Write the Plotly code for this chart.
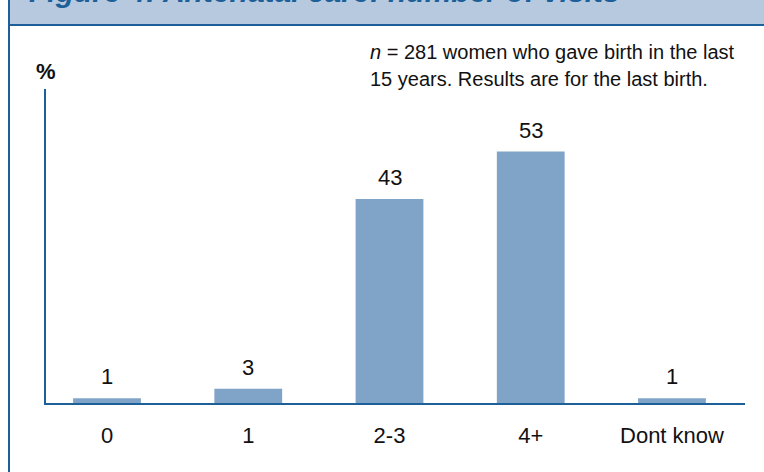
import plotly.graph_objects as go

categories = ["0", "1", "2-3", "4+", "Dont know"]
values = [1, 3, 43, 53, 1]
value_labels = ["1", "3", "43", "53", "1"]

title_text = "Figure 4: Antenatal care: number of visits"
note_line1 = "<i>n</i> = 281 women who gave birth in the last"
note_line2 = "15 years. Results are for the last birth."

W, H = 764, 472
L, R, T, B = 46, 745, 89, 403  # plot area in pixels
PW, PH = R - L, B - T

def px(x):
    return (x - L) / PW

def py(y):
    return (B - y) / PH

FONT = "Liberation Sans, Arial, sans-serif"
BLUE = "#1c5f99"
BAR = "#80a4c8"

fig = go.Figure()
fig.add_trace(go.Bar(
    x=categories, y=values, width=0.48,
    marker=dict(color=BAR, line=dict(width=0)),
    hoverinfo="skip",
))

annotations = []
for c, v, t in zip(categories, values, value_labels):
    annotations.append(dict(x=c, y=v, xref="x", yref="y", text=t, showarrow=False,
                            yanchor="bottom", yshift=7,
                            font=dict(family=FONT, size=22, color="#111111")))

annotations += [
    dict(x=px(27), y=py(10), xref="paper", yref="paper", text="<b><i>" + title_text + "</i></b>",
         showarrow=False, xanchor="left", yanchor="bottom",
         font=dict(family=FONT, size=30, color=BLUE)),
    dict(x=px(34), y=py(71), xref="paper", yref="paper", text="<b>%</b>",
         showarrow=False, xanchor="left", yanchor="middle",
         font=dict(family=FONT, size=22, color="#111111")),
    dict(x=px(368), y=py(52), xref="paper", yref="paper", text=note_line1,
         showarrow=False, xanchor="left", yanchor="middle",
         font=dict(family=FONT, size=20, color="#111111")),
    dict(x=px(368), y=py(79), xref="paper", yref="paper", text=note_line2,
         showarrow=False, xanchor="left", yanchor="middle",
         font=dict(family=FONT, size=20, color="#111111")),
]

shapes = [
    dict(type="rect", xref="paper", yref="paper", x0=px(9), x1=px(770), y0=py(25), y1=py(-10),
         fillcolor="#b7c9de", line=dict(width=0), layer="below"),
    dict(type="line", xref="paper", yref="paper", x0=px(9), x1=px(770), y0=py(25), y1=py(25),
         line=dict(color=BLUE, width=2)),
    dict(type="line", xref="paper", yref="paper", x0=px(9), x1=px(9), y0=py(-10), y1=py(480),
         line=dict(color=BLUE, width=2)),
]

fig.update_layout(
    width=W, height=H,
    margin=dict(l=L, r=W - R, t=T, b=H - B, pad=0),
    paper_bgcolor="white", plot_bgcolor="white",
    showlegend=False,
    annotations=annotations,
    shapes=shapes,
    xaxis=dict(type="category", range=[-0.432, 4.517], showgrid=False, zeroline=False,
               showline=True, linecolor=BLUE, linewidth=1.5, ticks="",
               tickfont=dict(family=FONT, size=22, color="#111111"),
               ticklabelstandoff=12, fixedrange=True),
    yaxis=dict(range=[0, 66.2], showgrid=False, zeroline=False, showticklabels=False,
               showline=True, linecolor=BLUE, linewidth=1.5, ticks="", fixedrange=True),
)

fig.write_html("out.html", config={"displayModeBar": False},
               post_script="document.body.style.margin='0';document.body.style.overflow='hidden';")
